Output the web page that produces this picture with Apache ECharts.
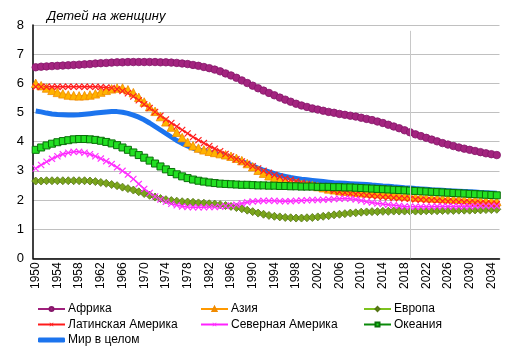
<!DOCTYPE html>
<html>
<head>
<meta charset="utf-8">
<script src="https://cdn.jsdelivr.net/npm/echarts@6/dist/echarts.min.js"></script>
<style>html,body{margin:0;padding:0;background:#fff}#c{width:514px;height:355px}</style>
</head>
<body>
<div id="c"></div>
<script>
var years = [];
for (var y = 1950; y <= 2035; y++) years.push(String(y));

var africa = [
6.55,6.57,6.58,6.59,6.60,6.61,6.62,6.63,6.64,6.65,
6.66,6.68,6.69,6.70,6.71,6.72,6.72,6.73,6.73,6.73,
6.73,6.73,6.73,6.72,6.72,6.71,6.70,6.68,6.66,6.63,
6.60,6.56,6.52,6.47,6.41,6.34,6.27,6.19,6.10,6.01,
5.92,5.83,5.75,5.67,5.59,5.51,5.44,5.37,5.30,5.24,
5.19,5.14,5.10,5.06,5.02,4.99,4.95,4.92,4.89,4.86,
4.82,4.78,4.74,4.69,4.64,4.58,4.52,4.46,4.39,4.32,
4.25,4.19,4.13,4.07,4.01,3.95,3.90,3.85,3.80,3.76,
3.72,3.68,3.64,3.60,3.57,3.54];

var asia = [
6.00,5.92,5.84,5.76,5.69,5.64,5.60,5.58,5.57,5.58,
5.60,5.64,5.70,5.76,5.81,5.84,5.84,5.78,5.68,5.52,
5.36,5.20,5.04,4.86,4.68,4.50,4.32,4.14,3.98,3.86,
3.78,3.72,3.67,3.63,3.59,3.55,3.50,3.43,3.35,3.25,
3.14,3.02,2.92,2.83,2.75,2.69,2.64,2.60,2.57,2.54,
2.52,2.50,2.46,2.42,2.38,2.35,2.32,2.30,2.28,2.26,
2.25,2.24,2.23,2.22,2.21,2.20,2.18,2.16,2.14,2.12,
2.10,2.09,2.08,2.07,2.06,2.05,2.04,2.03,2.02,2.01,
2.00,1.99,1.98,1.97,1.96,1.95];

var europe = [
2.65,2.65,2.66,2.66,2.66,2.66,2.66,2.66,2.66,2.66,
2.65,2.63,2.60,2.57,2.53,2.49,2.44,2.39,2.34,2.28,
2.22,2.16,2.10,2.05,2.01,1.98,1.96,1.94,1.93,1.92,
1.90,1.89,1.87,1.86,1.84,1.81,1.78,1.74,1.70,1.65,
1.60,1.55,1.51,1.47,1.44,1.42,1.40,1.39,1.38,1.38,
1.39,1.40,1.42,1.44,1.46,1.49,1.51,1.53,1.55,1.56,
1.58,1.59,1.60,1.60,1.61,1.61,1.62,1.62,1.62,1.62,
1.62,1.62,1.63,1.63,1.63,1.64,1.64,1.64,1.65,1.65,
1.65,1.66,1.66,1.67,1.67,1.68];

var latam = [
5.88,5.88,5.88,5.88,5.88,5.88,5.88,5.88,5.88,5.88,
5.88,5.88,5.87,5.86,5.84,5.80,5.74,5.66,5.55,5.42,
5.28,5.15,5.02,4.89,4.76,4.64,4.52,4.40,4.28,4.16,
4.05,3.95,3.85,3.76,3.67,3.58,3.49,3.40,3.32,3.24,
3.16,3.08,3.00,2.93,2.86,2.80,2.74,2.69,2.64,2.59,
2.55,2.51,2.47,2.42,2.37,2.32,2.28,2.25,2.22,2.20,
2.18,2.16,2.14,2.12,2.10,2.09,2.07,2.06,2.05,2.04,
2.02,2.01,2.00,1.99,1.97,1.96,1.95,1.94,1.93,1.92,
1.91,1.90,1.89,1.88,1.87,1.86];

var northAm = [
3.08,3.20,3.31,3.41,3.50,3.57,3.62,3.65,3.65,3.62,
3.57,3.50,3.42,3.33,3.23,3.12,3.00,2.87,2.72,2.55,
2.38,2.24,2.12,2.02,1.94,1.87,1.82,1.78,1.76,1.75,
1.75,1.75,1.76,1.76,1.77,1.79,1.81,1.84,1.88,1.92,
1.95,1.96,1.97,1.97,1.97,1.96,1.96,1.96,1.97,1.98,
1.99,2.00,2.00,2.01,2.02,2.03,2.04,2.05,2.04,2.02,
1.98,1.94,1.91,1.88,1.86,1.84,1.82,1.80,1.78,1.77,
1.77,1.77,1.77,1.77,1.78,1.78,1.78,1.78,1.78,1.78,
1.78,1.79,1.79,1.79,1.79,1.79];

var oceania = [
3.72,3.80,3.87,3.93,3.98,4.02,4.05,4.08,4.09,4.09,
4.08,4.06,4.03,3.99,3.94,3.88,3.80,3.72,3.63,3.54,
3.45,3.35,3.25,3.15,3.05,2.96,2.88,2.81,2.75,2.70,
2.66,2.63,2.60,2.58,2.56,2.55,2.54,2.53,2.52,2.52,
2.51,2.50,2.50,2.49,2.49,2.48,2.48,2.47,2.47,2.46,
2.46,2.46,2.45,2.45,2.45,2.44,2.44,2.43,2.43,2.42,
2.41,2.40,2.39,2.38,2.37,2.36,2.35,2.34,2.33,2.32,
2.31,2.30,2.29,2.28,2.27,2.26,2.25,2.24,2.23,2.22,
2.21,2.20,2.19,2.18,2.17,2.16];

var world = [
5.05,5.02,4.98,4.95,4.93,4.92,4.91,4.91,4.92,4.94,
4.96,4.98,5.00,5.02,5.03,5.03,5.01,4.97,4.91,4.84,
4.75,4.64,4.52,4.40,4.28,4.16,4.04,3.94,3.85,3.78,
3.72,3.67,3.63,3.59,3.55,3.50,3.45,3.39,3.32,3.25,
3.17,3.09,3.02,2.96,2.90,2.85,2.81,2.77,2.74,2.71,
2.69,2.67,2.65,2.63,2.61,2.59,2.58,2.57,2.56,2.55,
2.54,2.53,2.51,2.50,2.48,2.47,2.45,2.44,2.42,2.41,
2.39,2.38,2.37,2.35,2.34,2.33,2.32,2.31,2.30,2.29,
2.28,2.27,2.26,2.25,2.24,2.23];

var yTicks = [0,1,2,3,4,5,6,7,8];
var markYear = '2019';
var title = 'Детей на женщину';

var FONT = 'Liberation Sans, Arial, sans-serif';
var XPATH = 'path://M0,1.2L1.2,0L5,3.8L8.8,0L10,1.2L6.2,5L10,8.8L8.8,10L5,6.2L1.2,10L0,8.8L3.8,5Z';

function mk(name, data, lineColor, symbol, size, fill, border, bw) {
  return {
    name: name, type: 'line', data: data,
    symbol: symbol, symbolSize: size, showSymbol: true, showAllSymbol: true,
    lineStyle: { color: lineColor, width: 1.5 },
    itemStyle: { color: fill, borderColor: border, borderWidth: bw },
    animation: false, emphasis: { disabled: true }
  };
}

var series = [
  mk('Африка', africa, '#A0207C', 'circle', 7.5, '#A3247F', '#85176A', 0.8),
  mk('Азия', asia, '#FF9900', 'triangle', 8.5, '#FFB300', '#F08A00', 0.8),
  mk('Европа', europe, '#7DC21E', 'diamond', 8, '#7AA51C', '#557515', 0.8),
  mk('Латинская Америка', latam, '#FF1A1A', XPATH, 7, '#FF2020', '#FF2020', 0),
  mk('Северная Америка', northAm, '#FF22FF', XPATH, 7, '#FF33FF', '#FF33FF', 0),
  mk('Океания', oceania, '#0A8A0A', 'rect', 7, '#22E022', '#0A700A', 1),
  {
    name: 'Мир в целом', type: 'line', data: world, showSymbol: false, symbol: 'none',
    lineStyle: { color: '#1C74EE', width: 5 }, itemStyle: { color: '#1C74EE' },
    animation: false, emphasis: { disabled: true },
    markLine: {
      silent: true, symbol: 'none', animation: false,
      lineStyle: { color: '#C8C8C8', width: 1, type: 'solid' },
      label: { show: false },
      data: [[{ coord: [markYear, 7.8] }, { coord: [markYear, 0] }]]
    }
  }
];

function legend(left, names) {
  return {
    orient: 'vertical', left: left, top: 302,
    itemWidth: 27, itemHeight: 5, itemGap: 1.5,
    textStyle: { fontFamily: FONT, fontSize: 12, color: '#000', lineHeight: 14, padding: [0,0,0,-2] },
    data: names, selectedMode: false, padding: 0
  };
}

var chart = echarts.init(document.getElementById('c'), null, { renderer: 'canvas' });
chart.setOption({
  backgroundColor: '#fff',
  animation: false,
  title: {
    text: title, left: 42, top: 5,
    textStyle: { fontFamily: FONT, fontSize: 13, fontStyle: 'italic', fontWeight: 'normal', color: '#000' }
  },
  grid: { left: 33, right: 14.5, top: 25, bottom: 96.7, containLabel: false },
  legend: [
    legend(37, ['Африка', 'Латинская Америка', { name: 'Мир в целом', icon: 'roundRect' }]),
    legend(200, ['Азия', 'Северная Америка']),
    legend(363, ['Европа', 'Океания'])
  ],
  xAxis: {
    type: 'category', data: years, boundaryGap: true,
    axisLine: { lineStyle: { color: '#000', width: 1.5 } },
    axisTick: { show: false },
    axisLabel: { interval: 3, rotate: 90, fontFamily: FONT, fontSize: 12, color: '#000', margin: 4 },
    splitLine: { show: false }
  },
  yAxis: {
    type: 'value', min: 0, max: 8, interval: 1,
    axisLine: { show: true, lineStyle: { color: '#000', width: 1.5 } },
    axisTick: { show: false },
    axisLabel: { fontFamily: FONT, fontSize: 13, color: '#000', margin: 9,
      formatter: function (v) { return yTicks.indexOf(v) >= 0 ? String(v) : ''; } },
    splitLine: { lineStyle: { color: '#C0C0C0', width: 1 } }
  },
  series: series
});
</script>
</body>
</html>
